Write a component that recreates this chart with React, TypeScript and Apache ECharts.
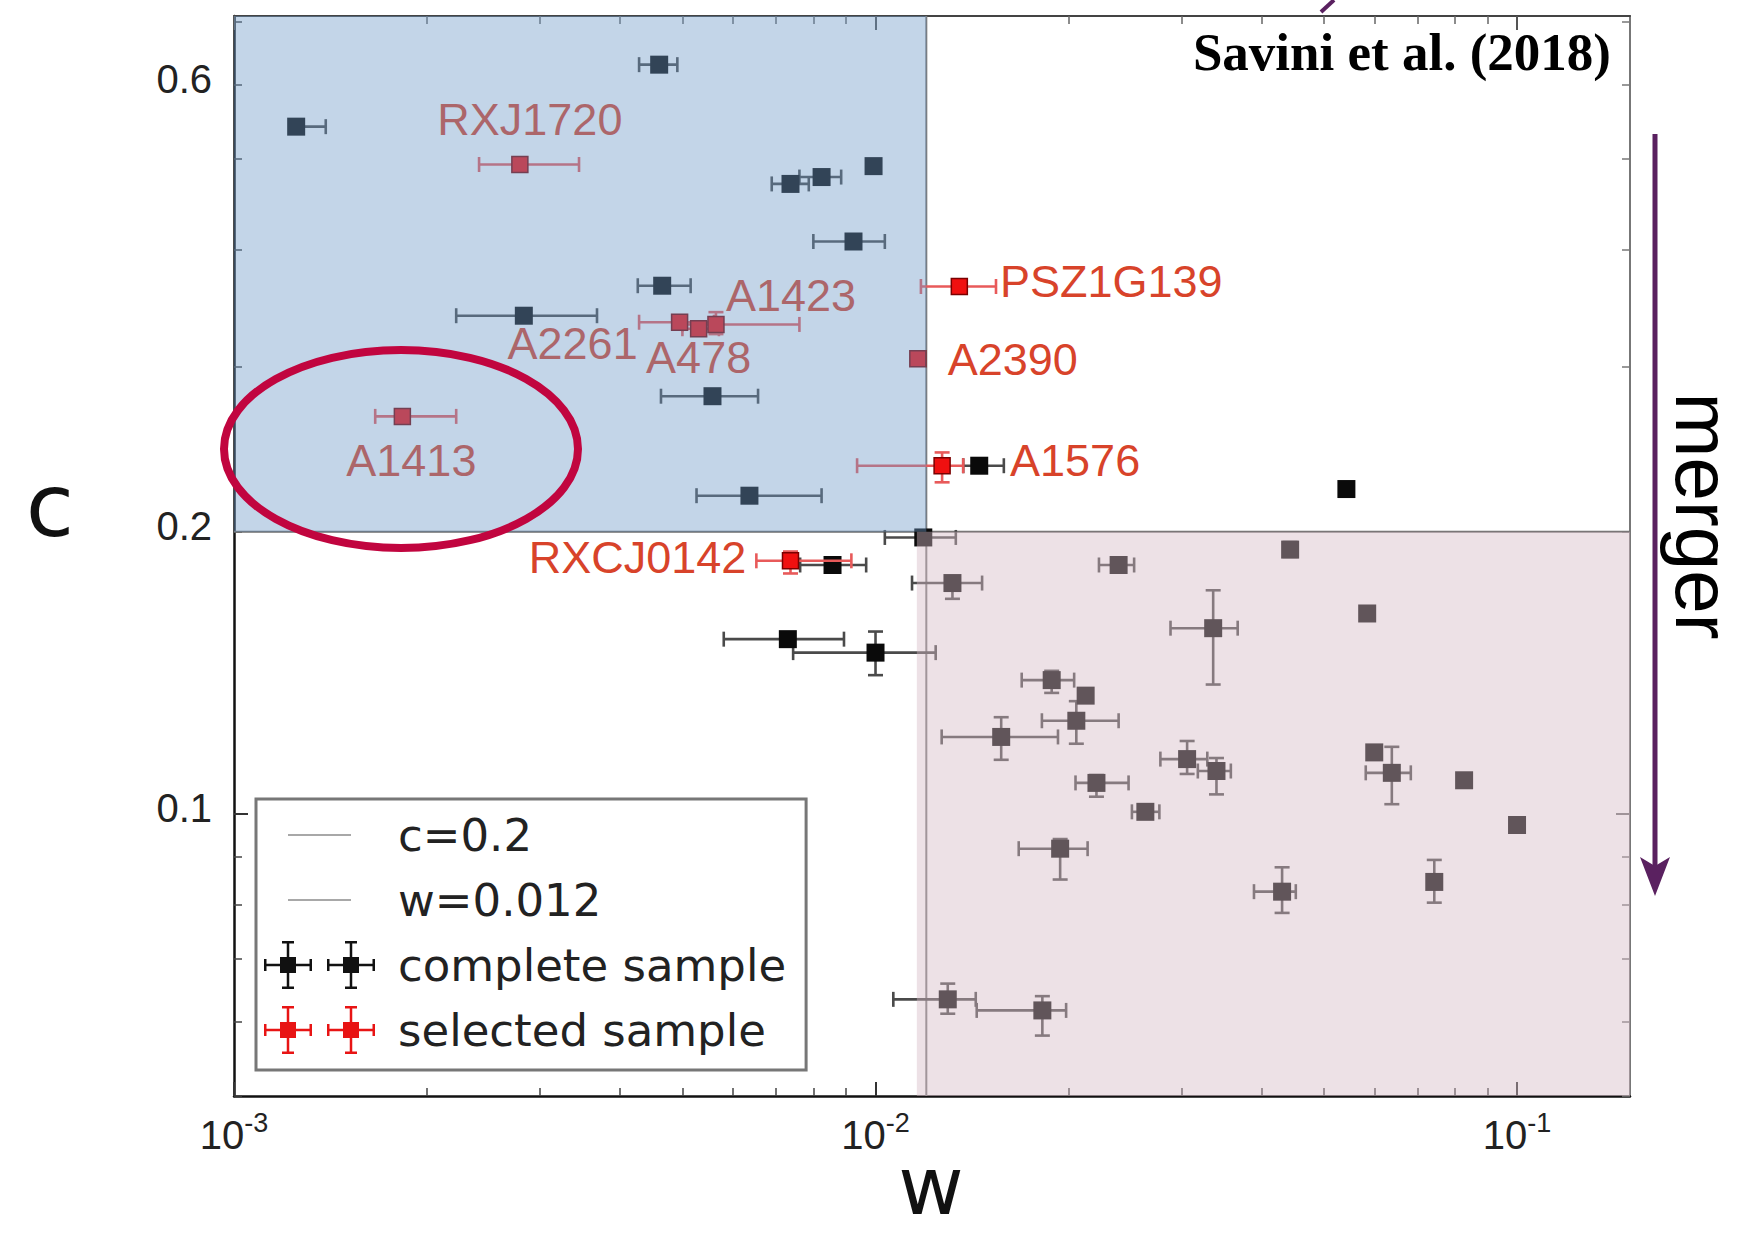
import { useEffect, useRef } from 'react';
import * as echarts from 'echarts';

// ---------- axis ranges & ticks ----------
const W_RANGE = [0.001, 0.15];
const C_RANGE = [0.05, 0.71];
const C_THRESHOLD = 0.2;
const W_THRESHOLD = 0.012;

const X_MAJOR_TICKS = [0.001, 0.01, 0.1];
const X_MINOR_TICKS = [
  0.002, 0.003, 0.004, 0.005, 0.006, 0.007, 0.008, 0.009,
  0.02, 0.03, 0.04, 0.05, 0.06, 0.07, 0.08, 0.09,
];
const Y_LABEL_TICKS = [0.1, 0.2, 0.6];
const Y_MAJOR_TICKS = [0.1];
const Y_MINOR_TICKS = [0.05, 0.06, 0.07, 0.08, 0.09, 0.2, 0.3, 0.4, 0.5, 0.6, 0.7];

// ---------- data: [w, c, wLow, wHigh, cLow, cHigh] ----------
const completeSample: (number | null)[][] = [
  [0.0046, 0.63, 0.00428, 0.00491, null, null],
  [0.00125, 0.541, 0.00122, 0.00139, null, null],
  [0.00737, 0.47, 0.00689, 0.00787, null, null],
  [0.00824, 0.478, 0.00761, 0.00884, null, null],
  [0.00993, 0.491, null, null, null, null],
  [0.00924, 0.408, 0.008, 0.01034, null, null],
  [0.00465, 0.366, 0.00426, 0.00515, null, null],
  [0.00283, 0.34, 0.00222, 0.00368, null, null],
  [0.00557, 0.279, 0.00463, 0.00656, null, null],
  [0.00636, 0.2185, 0.00526, 0.00824, null, null],
  [0.01451, 0.2352, 0.0137, 0.01585, null, null],
  [0.0542, 0.2221, null, null, null, null],
  [0.01187, 0.1972, 0.01034, 0.01334, null, null],
  [0.01318, 0.1763, 0.0114, 0.01466, 0.1696, 0.179],
  [0.00857, 0.1843, 0.00763, 0.00967, null, null],
  [0.0073, 0.1536, 0.0058, 0.00893, null, null],
  [0.01, 0.1486, 0.00744, 0.01241, 0.1406, 0.1565],
  [0.02393, 0.1843, 0.0223, 0.0253, null, null],
  [0.04429, 0.1914, 0.0437, 0.0449, 0.188, 0.195],
  [0.0584, 0.1636, null, null, null, null],
  [0.0336, 0.1578, 0.02883, 0.03669, 0.1374, 0.1732],
  [0.01882, 0.1389, 0.0169, 0.0204, 0.1346, 0.1421],
  [0.02126, 0.1337, null, null, null, null],
  [0.02056, 0.1257, 0.01817, 0.02393, 0.1188, 0.1319],
  [0.0157, 0.1208, 0.01268, 0.01925, 0.1142, 0.1268],
  [0.0306, 0.1144, 0.0278, 0.0329, 0.1103, 0.1196],
  [0.034, 0.1111, 0.0318, 0.0358, 0.1049, 0.1147],
  [0.0221, 0.1079, 0.0205, 0.0248, 0.1043, 0.11],
  [0.02634, 0.1005, 0.0251, 0.0277, null, null],
  [0.0599, 0.1163, null, null, null, null],
  [0.0638, 0.1106, 0.0581, 0.0683, 0.1024, 0.1179],
  [0.0827, 0.1086, null, null, null, null],
  [0.1, 0.0973, null, null, null, null],
  [0.0194, 0.0918, 0.01672, 0.02141, 0.0851, 0.094],
  [0.04303, 0.0826, 0.0389, 0.0452, 0.0784, 0.0877],
  [0.0743, 0.0846, null, null, 0.0804, 0.0893],
  [0.01296, 0.0634, 0.01066, 0.01433, 0.0612, 0.0659],
  [0.0182, 0.0617, 0.01438, 0.01982, 0.058, 0.0639],
];

const selectedNames = [
  'RXJ1720', 'PSZ1G139', 'A2261', 'A478', 'A1423', 'A2390', 'A1413', 'A1576', 'RXCJ0142',
];
const selectedSample: (number | null)[][] = [
  [0.00279, 0.493, 0.00241, 0.00345, null, null],
  [0.01351, 0.3653, 0.01177, 0.01541, null, null],
  [0.00495, 0.3346, 0.00428, 0.0056, null, null],
  [0.0053, 0.3293, 0.005, 0.0057, null, null],
  [0.00564, 0.3328, 0.005, 0.00761, 0.325, 0.343],
  [0.01164, 0.3059, null, null, null, null],
  [0.00183, 0.2655, 0.00166, 0.00222, null, null],
  [0.0127, 0.2352, 0.00936, 0.0137, 0.2258, 0.243],
  [0.00737, 0.1862, 0.00652, 0.00917, 0.1805, 0.1905],
];

// shaded regions: [wMin, cMin, wMax, cMax]
const relaxedRegion = [0.001, 0.2, 0.012, 0.71];
const mergerRegion = [0.0116, 0.05, 0.15, 0.2];

// ---------- layout / style constants ----------
const LABEL_OFFSETS: Record<string, number[]> = {
  RXJ1720: [10, -45],
  PSZ1G139: [152, -5],
  A2261: [-107, 21],
  A478: [0, 29],
  A1423: [75, -29],
  A2390: [95, 1],
  A1413: [9, 44],
  A1576: [133, -5],
  RXCJ0142: [-153, -3],
};
const REGION_COLORS = ['rgba(110,153,200,0.41)', 'rgba(214,185,198,0.43)'];

const rect = (x: number, y: number, w: number, h: number) =>
  `M${x} ${y}h${w}v${h}h${-w}Z`;
const BOUNDS = 'M0 0L0 0Z M112 52L112 52Z';
const ebMarker = (cx: number) =>
  [
    rect(cx - 24, 24.75, 48, 2.5),
    rect(cx - 24, 20, 2.5, 12),
    rect(cx + 21.5, 20, 2.5, 12),
    rect(cx - 1.25, 2, 2.5, 48),
    rect(cx - 6, 2, 12, 2.5),
    rect(cx - 6, 47.5, 12, 2.5),
    rect(cx - 8, 18, 16, 16),
  ].join(' ');
const EB_ICON = 'path://' + BOUNDS + ' ' + ebMarker(24) + ' ' + ebMarker(87);
const LINE_ICON = 'path://' + BOUNDS + ' ' + rect(24, 25, 63, 2);

const fill = (rows: (number | null)[][]) =>
  rows.map((r) => [
    r[0] as number,
    r[1] as number,
    (r[2] ?? r[0]) as number,
    (r[3] ?? r[0]) as number,
    (r[4] ?? r[1]) as number,
    (r[5] ?? r[1]) as number,
  ]);

const errorBarRender = (color: string) => (params: any, api: any) => {
  const w = api.value(0);
  const c = api.value(1);
  const wl = api.value(2);
  const wh = api.value(3);
  const cl = api.value(4);
  const ch = api.value(5);
  const cap = 7.5;
  const style = { stroke: color, lineWidth: 2.6 };
  const children: any[] = [];
  if (wh > wl) {
    const a = api.coord([wl, c]);
    const b = api.coord([wh, c]);
    children.push({ type: 'line', shape: { x1: a[0], y1: a[1], x2: b[0], y2: b[1] }, style });
    children.push({ type: 'line', shape: { x1: a[0], y1: a[1] - cap, x2: a[0], y2: a[1] + cap }, style });
    children.push({ type: 'line', shape: { x1: b[0], y1: b[1] - cap, x2: b[0], y2: b[1] + cap }, style });
  }
  if (ch > cl) {
    const a = api.coord([w, cl]);
    const b = api.coord([w, ch]);
    children.push({ type: 'line', shape: { x1: a[0], y1: a[1], x2: b[0], y2: b[1] }, style });
    children.push({ type: 'line', shape: { x1: a[0] - cap, y1: a[1], x2: a[0] + cap, y2: a[1] }, style });
    children.push({ type: 'line', shape: { x1: b[0] - cap, y1: b[1], x2: b[0] + cap, y2: b[1] }, style });
  }
  return { type: 'group', children };
};

const GRID = { left: 234, right: 118, top: 16, bottom: 141, outerBoundsMode: 'none' };

const xAxisBase = {
  type: 'log',
  min: W_RANGE[0],
  max: W_RANGE[1],
  splitLine: { show: false },
  axisLabel: { show: false },
};
const yAxisBase = {
  type: 'log',
  min: C_RANGE[0],
  max: C_RANGE[1],
  splitLine: { show: false },
  axisLabel: { show: false },
};

function buildOption(): any {
  return {
    animation: false,
    backgroundColor: '#ffffff',
    grid: [GRID, GRID],
    xAxis: [
      {
        ...xAxisBase,
        gridIndex: 0,
        position: 'bottom',
        axisLine: { show: true, onZero: false, lineStyle: { color: '#111', width: 2.5 } },
        axisTick: { show: true, inside: true, length: 14, customValues: X_MAJOR_TICKS, lineStyle: { color: '#333', width: 2 } },
        axisLabel: {
          show: true,
          customValues: X_MAJOR_TICKS,
          margin: 13,
          formatter: (v: number) => `{b|10}{s|${Math.round(Math.log10(v))}}`,
          rich: {
            b: { fontFamily: 'Liberation Sans', fontSize: 40, lineHeight: 52, color: '#222' },
            s: { fontFamily: 'Liberation Sans', fontSize: 27, lineHeight: 34, verticalAlign: 'top', color: '#222' },
          },
        },
      },
      {
        ...xAxisBase,
        gridIndex: 0,
        position: 'top',
        axisLine: { show: true, onZero: false, lineStyle: { color: '#444', width: 2 } },
        axisTick: { show: true, inside: true, length: 14, customValues: X_MAJOR_TICKS, lineStyle: { color: '#555', width: 2 } },
      },
      {
        ...xAxisBase,
        gridIndex: 1,
        position: 'bottom',
        axisLine: { show: false, onZero: false },
        axisTick: { show: true, inside: true, length: 8, customValues: X_MINOR_TICKS, lineStyle: { color: '#444', width: 1.5 } },
      },
      {
        ...xAxisBase,
        gridIndex: 1,
        position: 'top',
        axisLine: { show: false, onZero: false },
        axisTick: { show: true, inside: true, length: 8, customValues: X_MINOR_TICKS, lineStyle: { color: '#666', width: 1.5 } },
      },
    ],
    yAxis: [
      {
        ...yAxisBase,
        gridIndex: 0,
        position: 'left',
        axisLine: { show: true, onZero: false, lineStyle: { color: '#111', width: 2.5 } },
        axisTick: { show: true, inside: true, length: 14, customValues: Y_MAJOR_TICKS, lineStyle: { color: '#333', width: 2 } },
        axisLabel: {
          show: true,
          customValues: Y_LABEL_TICKS,
          margin: 22,
          formatter: (v: number) => String(Number(v.toPrecision(2))),
          fontFamily: 'Liberation Sans',
          fontSize: 40,
          lineHeight: 12,
          verticalAlign: 'bottom',
          color: '#222',
        },
      },
      {
        ...yAxisBase,
        gridIndex: 0,
        position: 'right',
        axisLine: { show: true, onZero: false, lineStyle: { color: '#777', width: 2 } },
        axisTick: { show: true, inside: true, length: 14, customValues: Y_MAJOR_TICKS, lineStyle: { color: '#777', width: 2 } },
      },
      {
        ...yAxisBase,
        gridIndex: 1,
        position: 'left',
        axisLine: { show: false, onZero: false },
        axisTick: { show: true, inside: true, length: 8, customValues: Y_MINOR_TICKS, lineStyle: { color: '#444', width: 1.5 } },
      },
      {
        ...yAxisBase,
        gridIndex: 1,
        position: 'right',
        axisLine: { show: false, onZero: false },
        axisTick: { show: true, inside: true, length: 8, customValues: Y_MINOR_TICKS, lineStyle: { color: '#777', width: 1.5 } },
      },
    ],
    legend: {
      show: true,
      orient: 'vertical',
      left: 256,
      top: 799,
      padding: [10, 20, 14, 8],
      itemWidth: 112,
      itemHeight: 52,
      itemGap: 13,
      selectedMode: false,
      backgroundColor: '#ffffff',
      borderColor: '#777',
      borderWidth: 3,
      borderRadius: 0,
      textStyle: { fontFamily: 'DejaVu Sans', fontSize: 45, color: '#222', padding: [0, 0, 0, 17] },
      data: [
        { name: 'c=0.2', icon: LINE_ICON, itemStyle: { color: '#a8a8a8', borderWidth: 0 } },
        { name: 'w=0.012', icon: LINE_ICON, itemStyle: { color: '#a8a8a8', borderWidth: 0 } },
        { name: 'complete sample', icon: EB_ICON, itemStyle: { color: '#111', borderWidth: 0 } },
        { name: 'selected sample', icon: EB_ICON, itemStyle: { color: '#e81414', borderWidth: 0 } },
      ],
    },
    series: [
      {
        name: 'c=0.2',
        type: 'line',
        xAxisIndex: 0,
        yAxisIndex: 0,
        z: 1,
        symbol: 'none',
        silent: true,
        lineStyle: { color: '#6e6e6e', width: 2 },
        itemStyle: { color: '#6e6e6e' },
        data: [[W_RANGE[0], C_THRESHOLD], [W_RANGE[1], C_THRESHOLD]],
      },
      {
        name: 'w=0.012',
        type: 'line',
        xAxisIndex: 0,
        yAxisIndex: 0,
        z: 1,
        symbol: 'none',
        silent: true,
        lineStyle: { color: '#7a7a7a', width: 2 },
        itemStyle: { color: '#7a7a7a' },
        data: [[W_THRESHOLD, C_RANGE[0]], [W_THRESHOLD, C_RANGE[1]]],
      },
      {
        name: 'complete sample errors',
        type: 'custom',
        xAxisIndex: 0,
        yAxisIndex: 0,
        z: 2,
        silent: true,
        encode: { x: 0, y: 1 },
        renderItem: errorBarRender('#4a4a4a'),
        data: fill(completeSample),
      },
      {
        name: 'complete sample',
        type: 'scatter',
        xAxisIndex: 0,
        yAxisIndex: 0,
        z: 3,
        symbol: 'rect',
        symbolSize: 18,
        itemStyle: { color: '#0a0a0a', opacity: 1 },
        data: completeSample.map((r) => [r[0], r[1]]),
      },
      {
        name: 'selected sample errors',
        type: 'custom',
        xAxisIndex: 0,
        yAxisIndex: 0,
        z: 4,
        silent: true,
        encode: { x: 0, y: 1 },
        renderItem: errorBarRender('#e85a5a'),
        data: fill(selectedSample),
      },
      {
        name: 'selected sample',
        type: 'scatter',
        xAxisIndex: 0,
        yAxisIndex: 0,
        z: 5,
        symbol: 'rect',
        symbolSize: 16,
        itemStyle: { color: '#f01010', borderColor: '#7a0000', borderWidth: 1.5, opacity: 1 },
        label: {
          show: true,
          position: 'inside',
          formatter: '{b}',
          fontFamily: 'Liberation Sans',
          fontSize: 45,
          color: '#d8432a',
          align: 'center',
          verticalAlign: 'middle',
        },
        data: selectedSample.map((r, i) => ({
          name: selectedNames[i],
          value: [r[0], r[1]],
          label: { offset: LABEL_OFFSETS[selectedNames[i]] },
        })),
      },
      {
        name: 'regions',
        type: 'custom',
        xAxisIndex: 0,
        yAxisIndex: 0,
        z: 8,
        silent: true,
        encode: { x: [0, 2], y: [1, 3] },
        renderItem: (params: any, api: any) => {
          const p0 = api.coord([api.value(0), api.value(3)]);
          const p1 = api.coord([api.value(2), api.value(1)]);
          return {
            type: 'rect',
            shape: { x: p0[0], y: p0[1], width: p1[0] - p0[0], height: p1[1] - p0[1] },
            style: { fill: REGION_COLORS[params.dataIndex] },
          };
        },
        data: [relaxedRegion, mergerRegion],
      },
    ],
    graphic: [
      {
        type: 'text',
        z: 100,
        silent: true,
        style: {
          text: 'c',
          x: 50,
          y: 505,
          align: 'center',
          verticalAlign: 'middle',
          fontFamily: 'DejaVu Sans',
          fontSize: 88,
          fill: '#111',
        },
      },
      {
        type: 'text',
        z: 100,
        silent: true,
        style: {
          text: 'w',
          x: 931,
          y: 1186,
          align: 'center',
          verticalAlign: 'middle',
          fontFamily: 'DejaVu Sans',
          fontSize: 80,
          fill: '#111',
        },
      },
      {
        type: 'ellipse',
        z: 100,
        silent: true,
        shape: { cx: 401, cy: 449, rx: 177, ry: 99 },
        style: { fill: 'none', stroke: '#c1053f', lineWidth: 8 },
      },
      {
        type: 'text',
        z: 100,
        silent: true,
        style: {
          text: 'Savini et al. (2018)',
          x: 1611,
          y: 52,
          align: 'right',
          verticalAlign: 'middle',
          fontFamily: 'Liberation Serif',
          fontWeight: 'bold',
          fontSize: 53,
          fill: '#000',
        },
      },
      {
        type: 'line',
        z: 100,
        silent: true,
        shape: { x1: 1655, y1: 134, x2: 1655, y2: 870 },
        style: { stroke: '#5a2160', lineWidth: 5 },
      },
      {
        type: 'polygon',
        z: 100,
        silent: true,
        shape: { points: [[1640, 857], [1655, 866], [1670, 857], [1655, 896]] },
        style: { fill: '#5a2160' },
      },
      {
        type: 'line',
        z: 100,
        silent: true,
        shape: { x1: 1321, y1: 12, x2: 1334, y2: 0 },
        style: { stroke: '#5a2160', lineWidth: 4 },
      },
      {
        type: 'text',
        z: 100,
        silent: true,
        x: 1703,
        y: 516,
        rotation: -Math.PI / 2,
        style: {
          text: 'merger',
          x: 0,
          y: 0,
          align: 'center',
          verticalAlign: 'middle',
          fontFamily: 'Liberation Sans',
          fontSize: 78,
          fill: '#000',
        },
      },
    ],
  };
}

export default function App() {
  const ref = useRef<HTMLDivElement>(null);
  useEffect(() => {
    document.body.style.margin = '0';
    const chart = echarts.init(ref.current as HTMLDivElement, null, { renderer: 'svg' });
    chart.setOption(buildOption());
    return () => chart.dispose();
  }, []);
  return <div ref={ref} style={{ width: 1748, height: 1237 }} />;
}
